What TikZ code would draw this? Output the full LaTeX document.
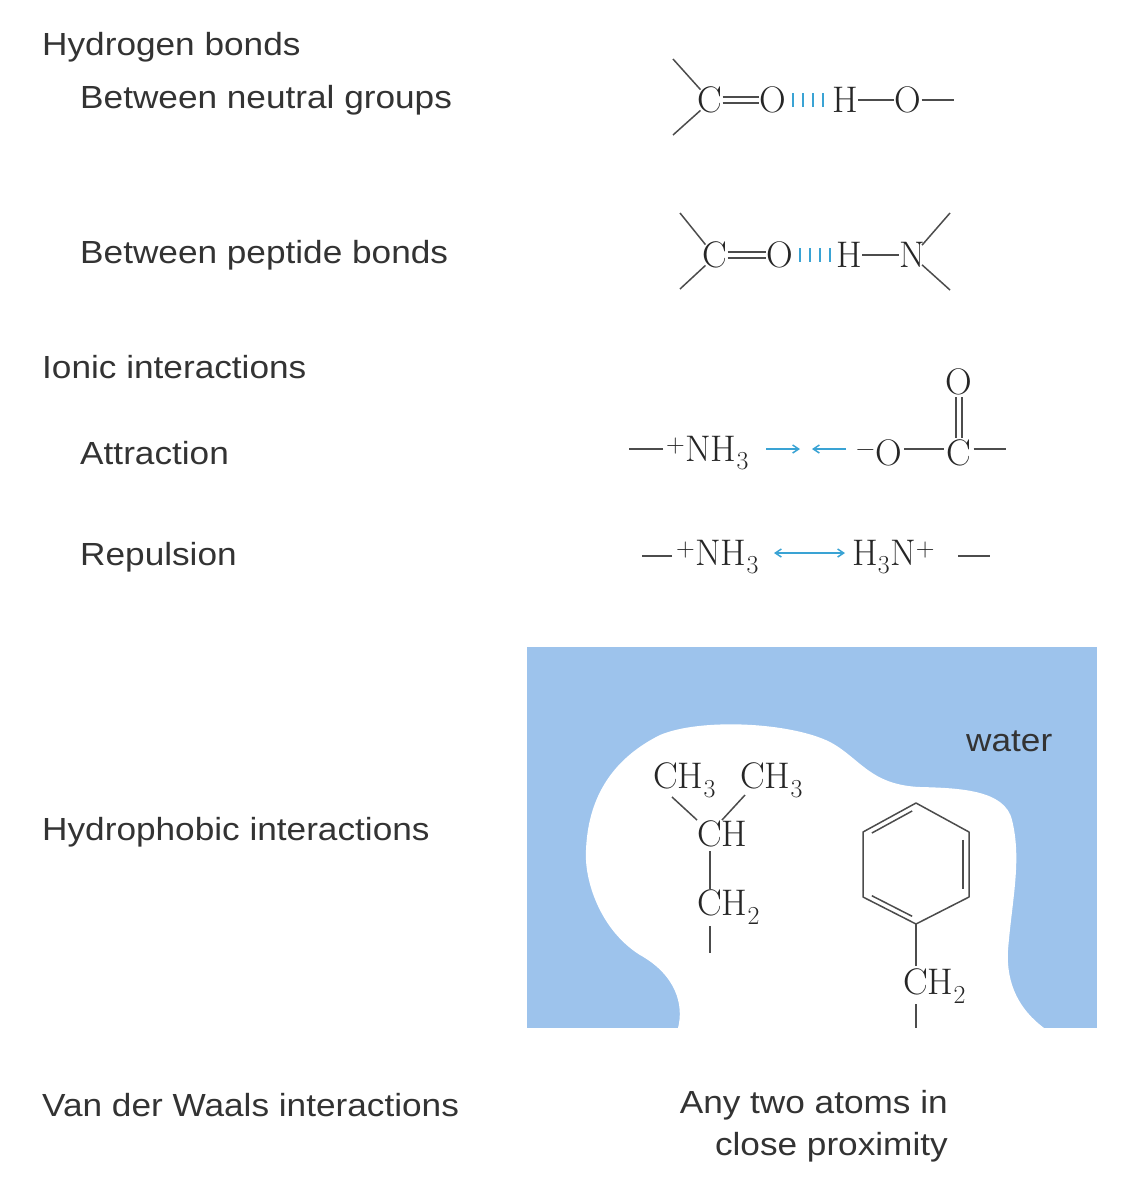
\documentclass[tikz,border=0pt]{standalone}
\usepackage{fontspec}
\newfontfamily\labfont[FakeStretch=1.1]{Liberation Sans}
\usetikzlibrary{arrows.meta,calc}
\definecolor{hb}{HTML}{3AA3D4}
\definecolor{wat}{HTML}{9DC3EC}
\definecolor{lab}{HTML}{333333}
\begin{document}
\begin{tikzpicture}[x=1pt,y=-1pt,
  lbl/.style={font=\labfont\fontsize{32}{38}\selectfont,text=lab,anchor=west,inner sep=0},
  atom/.style={font=\fontsize{37}{42}\selectfont,inner sep=0,text=black!85},
  bnd/.style={line width=1.5pt,black!70},
  hbar/.style={line width=2.8pt,hb},
  barr/.style={line width=1.5pt,hb,-{Straight Barb[length=6pt,width=8pt]}}]
\useasboundingbox (0,0) rectangle (1135,1200);
% labels
\node[lbl] (t1) at (42,47) {Hydrogen bonds};
\node[lbl] (t2) at (80,100) {Between neutral groups};
\node[lbl] (t3) at (80,255) {Between peptide bonds};
\node[lbl] (t4) at (42,367) {Ionic interactions};
\node[lbl] (t5) at (80,453) {Attraction};
\node[lbl] (t6) at (80,557) {Repulsion};
\node[lbl] (t7) at (42,832) {Hydrophobic interactions};
\node[lbl] (t8) at (42,1105) {Van der Waals interactions};
\node[lbl,anchor=east] (t9) at (948,1105) {Any two atoms in};
\node[lbl,anchor=east] (t10) at (948,1147) {close proximity};
% row 1
\node[atom] (c1) at (710,100) {C};
\node[atom] (o1) at (773,100) {O};
\node[atom] (h1) at (845,100) {H};
\node[atom] (o2) at (908,100) {O};
\draw[bnd] ($(c1.east)+(0,-3)$) -- ($(o1.west)+(0,-3)$);
\draw[bnd] ($(c1.east)+(0,3)$) -- ($(o1.west)+(0,3)$);
\draw[bnd] (h1) -- (o2); \draw[bnd] (o2.east) -- ++(32,0) coordinate (e1);
\draw[bnd] (673,59) -- ($(c1.north west)+(3,3)$);
\draw[bnd] ($(c1.south west)+(3,-3)$) -- (673,135);
\foreach \x in {793,803,813,823} \draw[hbar] (\x,93) -- (\x,107);
% row 2
\node[atom] (c2) at (715,255) {C};
\node[atom] (o3) at (780,255) {O};
\node[atom] (h2) at (849,255) {H};
\node[atom] (n1) at (912,255) {N};
\draw[bnd] ($(c2.east)+(0,-3)$) -- ($(o3.west)+(0,-3)$);
\draw[bnd] ($(c2.east)+(0,3)$) -- ($(o3.west)+(0,3)$);
\draw[bnd] (h2) -- (n1);
\draw[bnd] (680,213) -- ($(c2.north west)+(3,3)$);
\draw[bnd] ($(c2.south west)+(3,-3)$) -- (680,289);
\draw[bnd] ($(n1.north east)+(-3,3)$) -- (950,213);
\draw[bnd] ($(n1.south east)+(-3,-3)$) -- (950,290);
\foreach \x in {800,810,820,830} \draw[hbar] (\x,248) -- (\x,262);
% attraction
\node[atom,anchor=west] (nh1) at (666,453) {\textsuperscript{+}NH\textsubscript{3}};
\node[atom,anchor=west] (om) at (856,453) {\textsuperscript{\textminus}O};
\node[atom] (c3) at (959,453) {C};
\node[atom] (o4) at (959,382) {O};
\draw[bnd] (nh1.west) ++(-3,-4) -- ++(-34,0);
\draw[bnd] ($(om.east)+(2,-4)$) -- ($(c3.west)+(-2,-4)$);
\draw[bnd] ($(c3.east)+(2,-4)$) -- ++(32,0);
\draw[bnd] ($(o4.south)+(-3,2)$) -- ($(c3.north)+(-3,-2)$);
\draw[bnd] ($(o4.south)+(3,2)$) -- ($(c3.north)+(3,-2)$);
\draw[barr] (766,449) -- (800,449);
\draw[barr] (846,449) -- (812,449);
% repulsion
\node[atom,anchor=west] (nh2) at (676,557) {\textsuperscript{+}NH\textsubscript{3}};
\node[atom,anchor=west] (nh3) at (852,557) {H\textsubscript{3}N\textsuperscript{+}};
\draw[bnd] (nh2.west) ++(-4,-1) -- ++(-30,0);
\draw[bnd] (958,556) -- (990,556);
\draw[line width=1.5pt,hb,{Straight Barb[length=6pt,width=8pt]}-{Straight Barb[length=6pt,width=8pt]}] (774,553) -- (845,553);
% water
\fill[wat] (527,647) rectangle (1097,1028);
\fill[white] (678,1028) .. controls (684,1005) and (676,975) .. (640,955)
  .. controls (600,930) and (584,880) .. (586,850)
  .. controls (588,800) and (610,760) .. (660,735)
  .. controls (700,718) and (790,722) .. (830,742)
  .. controls (860,758) and (870,785) .. (920,787)
  .. controls (960,788) and (1005,790) .. (1012,820)
  .. controls (1022,860) and (1012,900) .. (1008,950)
  .. controls (1006,985) and (1020,1010) .. (1044,1028) -- cycle;
\node[lbl] (w) at (966,741) {water};
% isobutyl
\node[atom,anchor=west] (m1) at (653,780) {CH\textsubscript{3}};
\node[atom,anchor=west] (m2) at (740,780) {CH\textsubscript{3}};
\node[atom,anchor=west] (ch) at (697,834) {CH};
\node[atom,anchor=west] (ch2) at (697,907) {CH\textsubscript{2}};
\draw[bnd] (672,797) -- (697,820);
\draw[bnd] (745,795) -- (722,820);
\draw[bnd] (710,851) -- (710,889);
\draw[bnd] (710,926) -- (710,953);
% benzene
\coordinate (b1) at (916,803); \coordinate (b2) at (969,832);
\coordinate (b3) at (969,897); \coordinate (b4) at (916,924);
\coordinate (b5) at (863,897); \coordinate (b6) at (863,832);
\draw[bnd,line join=round] (b1) -- (b2) -- (b3) -- (b4) -- (b5) -- (b6) -- cycle;
\draw[bnd] ($(b6)!0.12!(b1)+(2.5,4.5)$) -- ($(b6)!0.88!(b1)+(2.5,4.5)$);
\draw[bnd] ($(b2)!0.12!(b3)+(-6,0)$) -- ($(b2)!0.88!(b3)+(-6,0)$);
\draw[bnd] ($(b4)!0.12!(b5)+(2.5,-4.5)$) -- ($(b4)!0.88!(b5)+(2.5,-4.5)$);
\node[atom,anchor=west] (ch2b) at (903,986) {CH\textsubscript{2}};
\draw[bnd] (b4) -- (916,966);
\draw[bnd] (916,1004) -- (916,1028);
\end{tikzpicture}
\end{document}
